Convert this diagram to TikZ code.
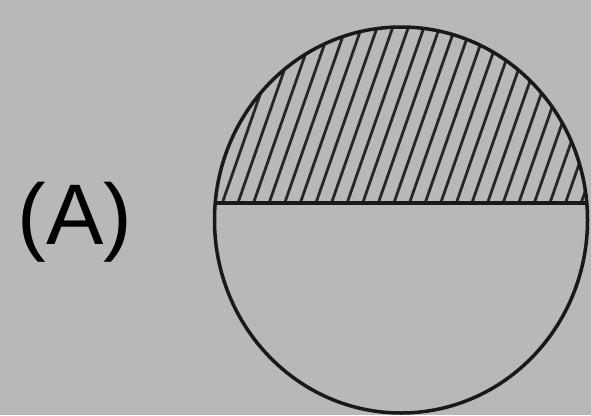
\documentclass[tikz,border=0pt]{standalone}
\usepackage{fontspec}
\setmainfont{Liberation Sans}
\definecolor{bg}{RGB}{184,184,184}
\begin{document}
\begin{tikzpicture}[x=1pt,y=-1pt,
  outline/.style={line width=3.5pt,black!90},
  hatch/.style={line width=2.8pt,black!85}]
\fill[bg] (0,0) rectangle (591,415);
\useasboundingbox (0,0) rectangle (591,415);
\begin{scope}
  \clip (401,220) ellipse [x radius=186.5, y radius=193];
  \clip (200,0) rectangle (600,203);
  \foreach \k in {0,...,40} {
    \draw[hatch] (128+15.6*\k,205) -- ++(68,-195);
  }
\end{scope}
\draw[outline] (401,220) ellipse [x radius=186.5, y radius=193];
\draw[outline] (215.5,203) -- (586.5,203);
\node[font=\fontsize{86}{86}\selectfont, inner sep=0pt] (label) at (75,222) {(A)};
\end{tikzpicture}
\end{document}
